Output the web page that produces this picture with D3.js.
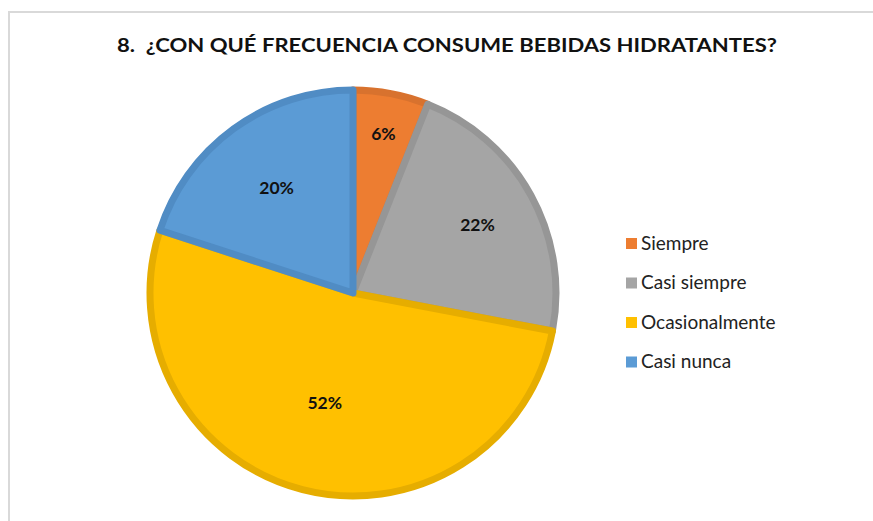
<!DOCTYPE html>
<html>
<head>
<meta charset="utf-8">
<script src="https://cdn.jsdelivr.net/npm/d3@7"></script>
<style>
  body { margin: 0; background: #fff; }
  svg { display: block; }
</style>
</head>
<body>
<svg id="chart" width="873" height="521"></svg>
<script>
// Chart data
const categories = ["Siempre", "Casi siempre", "Ocasionalmente", "Casi nunca"];
const values = [6, 22, 52, 20];
const fills = ["#ED7D31", "#A5A5A5", "#FFC000", "#5B9BD5"];
const strokes = ["#D8722E", "#969696", "#E6AD00", "#508CC4"];
const title = "8.  ¿CON QUÉ FRECUENCIA CONSUME BEBIDAS HIDRATANTES?";

// Label distance from centre as fraction of radius (Excel "best fit")
const labelPos = [0.8, 0.7, 0.56, 0.64];

let svg = d3.select("#chart");

// Chart area border
svg.append("rect")
  .attr("x", 9).attr("y", 12)
  .attr("width", 900).attr("height", 600)
  .attr("fill", "#fff")
  .attr("stroke", "#D9D9D9")
  .attr("stroke-width", 2);

// Title
svg.append("text")
  .attr("x", 447).attr("y", 52)
  .attr("text-anchor", "middle")
  .style("white-space", "pre")
  .attr("font-family", "Lato, sans-serif")
  .attr("font-weight", "bold")
  .attr("font-size", "18px")
  .attr("textLength", 660)
  .attr("lengthAdjust", "spacingAndGlyphs")
  .attr("fill", "#111")
  .text(title);

// Pie
let cx = 353, cy = 293, r = 203;
let pie = d3.pie().sort(null).value(d => d)(values);
let arc = d3.arc().innerRadius(0).outerRadius(r);

let g = svg.append("g").attr("transform", `translate(${cx}, ${cy})`);

g.selectAll(".slice")
  .data(pie)
  .join("path")
    .attr("class", "slice")
    .attr("d", arc)
    .attr("fill", (d, i) => fills[i])
    .attr("stroke", (d, i) => strokes[i])
    .attr("stroke-width", 7)
    .attr("stroke-linejoin", "round");

g.selectAll(".lbl")
  .data(pie)
  .join("text")
    .attr("class", "lbl")
    .attr("transform", (d, i) => {
      let lr = r * labelPos[i];
      let a = (d.startAngle + d.endAngle) / 2;
      return `translate(${lr * Math.sin(a)}, ${-lr * Math.cos(a)})`;
    })
    .attr("text-anchor", "middle")
    .attr("dy", "0.36em")
    .attr("font-family", "Lato, sans-serif")
    .attr("font-weight", "bold")
    .attr("font-size", "17.5px")
    .attr("fill", "#111")
    .text(d => d.data + "%");

// Legend
let legend = svg.append("g")
  .attr("transform", "translate(626, 243)");

let item = legend.selectAll(".item")
  .data(categories)
  .join("g")
    .attr("class", "item")
    .attr("transform", (d, i) => `translate(0, ${i * 39.5})`);

item.append("rect")
  .attr("x", 0).attr("y", -5)
  .attr("width", 11).attr("height", 11)
  .attr("fill", (d, i) => fills[i]);

item.append("text")
  .attr("x", 15).attr("y", 0)
  .attr("dy", "0.36em")
  .attr("font-family", "Lato, sans-serif")
  .attr("font-size", "19px")
  .attr("fill", "#222")
  .text(d => d);
</script>
</body>
</html>
